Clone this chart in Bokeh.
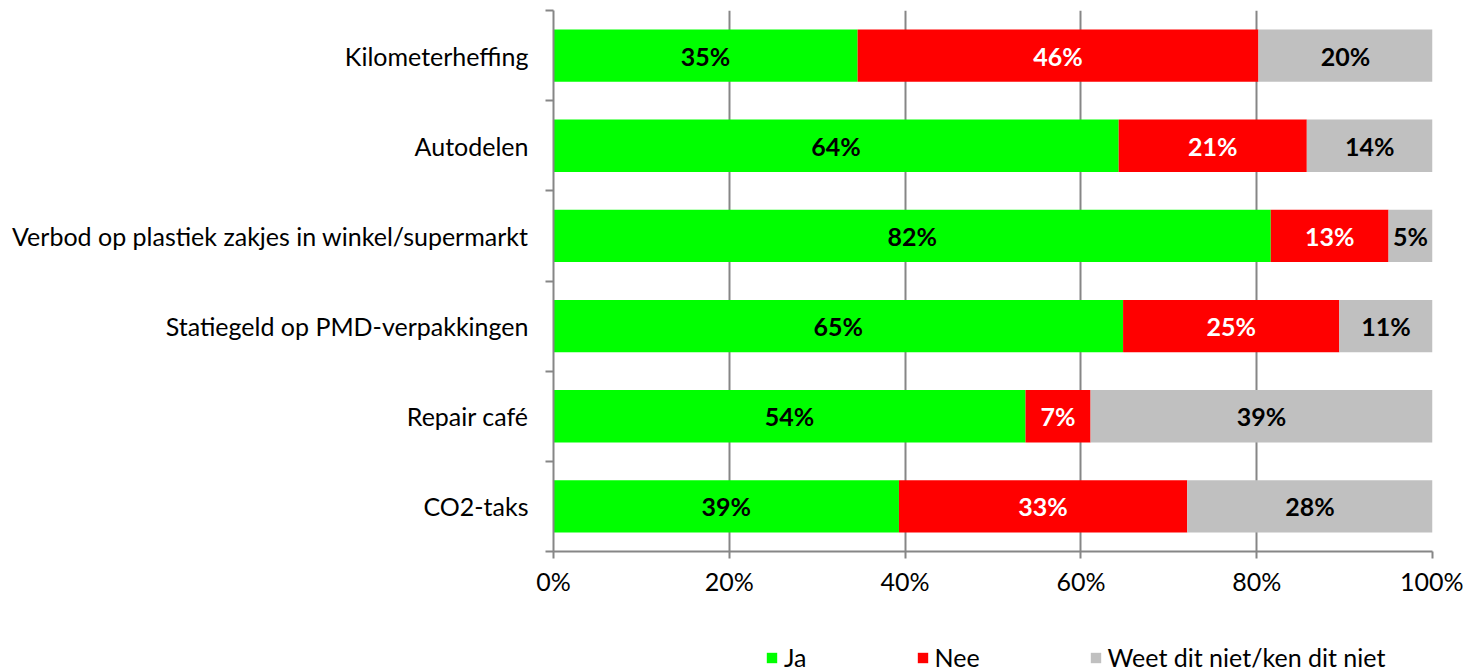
from bokeh.plotting import figure
from bokeh.layouts import column
from bokeh.models import (ColumnDataSource, Range1d, FixedTicker, PrintfTickFormatter,
                          Legend, LegendItem)
from bokeh.core.properties import value
from bokeh.embed import file_html
from bokeh.resources import INLINE

categories = ["Kilometerheffing", "Autodelen", "Verbod op plastiek zakjes in winkel/supermarkt",
              "Statiegeld op PMD-verpakkingen", "Repair café", "CO2-taks"]
ja = [34.6, 64.3, 81.6, 64.8, 53.7, 39.3]
nee = [45.6, 21.4, 13.4, 24.6, 7.4, 32.8]
weet = [19.8, 14.3, 5.0, 10.6, 38.9, 27.9]
series = ["Ja", "Nee", "Weet dit niet/ken dit niet"]
colors = ["#00FF00", "#FF0000", "#C0C0C0"]
label_colors = ["black", "white", "black"]
x_ticks = [0, 20, 40, 60, 80, 100]

FONT = "Lato"
FS = "25px"
n = len(categories)
ys = [n - 0.5 - i for i in range(n)]

p = figure(output_backend="svg", toolbar_location=None,
           frame_width=879, frame_height=541,
           min_border_left=553, min_border_right=31, min_border_top=10, min_border_bottom=0,
           x_range=Range1d(0, 100), y_range=Range1d(0, n))
p.outline_line_color = None
p.background_fill_color = "white"

src = ColumnDataSource(dict(y=ys, Ja=ja, Nee=nee, Weet=weet))
keys = ["Ja", "Nee", "Weet"]
renderers = p.hbar_stack(keys, y="y", height=0.58, color=colors, line_color=None, source=src)

# labels
for k, (vals, lc) in enumerate(zip([ja, nee, weet], label_colors)):
    lefts = [sum(v[:k]) for v in zip(ja, nee, weet)]
    xs = [l + v / 2 for l, v in zip(lefts, vals)]
    txt = [f"{round(v)}%" for v in vals]
    ls = ColumnDataSource(dict(x=xs, y=ys, t=txt))
    p.text(x="x", y="y", text="t", source=ls, text_align="center", text_baseline="middle",
           text_font=value(FONT), text_font_style="bold", text_font_size=FS,
           text_color=lc)

# x axis
xa = p.xaxis[0]
xa.ticker = FixedTicker(ticks=x_ticks)
xa.formatter = PrintfTickFormatter(format="%d%%")
xa.axis_line_color = "#868686"
xa.axis_line_width = 2
xa.major_tick_line_color = "#868686"
xa.major_tick_line_width = 2
xa.major_tick_out = 7
xa.major_tick_in = 0
xa.minor_tick_line_color = None
xa.major_label_text_font = FONT
xa.major_label_text_font_size = FS
xa.major_label_text_color = "black"
xa.major_label_standoff = 7

# y axis
ya = p.yaxis[0]
ya.ticker = FixedTicker(ticks=ys, minor_ticks=list(range(n + 1)))
ya.major_label_overrides = {y: c for y, c in zip(ys, categories)}
ya.axis_line_color = "#868686"
ya.axis_line_width = 2
ya.major_tick_line_color = None
ya.major_tick_out = 0
ya.major_tick_in = 0
ya.minor_tick_line_color = "#868686"
ya.minor_tick_line_width = 2
ya.minor_tick_out = 8
ya.minor_tick_in = 0
ya.major_label_text_font = FONT
ya.major_label_text_font_size = FS
ya.major_label_text_color = "black"
ya.major_label_standoff = 17

p.xgrid.ticker = FixedTicker(ticks=x_ticks)
p.xgrid.grid_line_color = "#868686"
p.xgrid.grid_line_width = 2
p.xgrid.grid_line_alpha = 1
p.ygrid.grid_line_color = None

# legend in its own strip below the chart (hidden copies of the series as swatches)
lf = figure(output_backend="svg", toolbar_location=None, width=1463, height=76,
            min_border=0, x_range=Range1d(0, 100), y_range=Range1d(0, n))
lf.axis.visible = False
lf.grid.grid_line_color = None
lf.outline_line_color = None
leg_r = lf.hbar_stack(keys, y="y", height=0.58, color=colors, line_color=None,
                      source=src, visible=False)
legend = Legend(items=[LegendItem(label=s, renderers=[r]) for s, r in zip(series, leg_r)],
                orientation="horizontal", location=(212, 2),
                border_line_color=None, background_fill_alpha=0,
                padding=0, margin=0, spacing=109,
                glyph_width=13, glyph_height=13, label_standoff=6,
                label_text_font=FONT, label_text_font_size=FS, label_text_color="black")
lf.add_layout(legend, "center")

page = column(p, lf, spacing=0)
open("out.html", "w").write(file_html(page, INLINE))
